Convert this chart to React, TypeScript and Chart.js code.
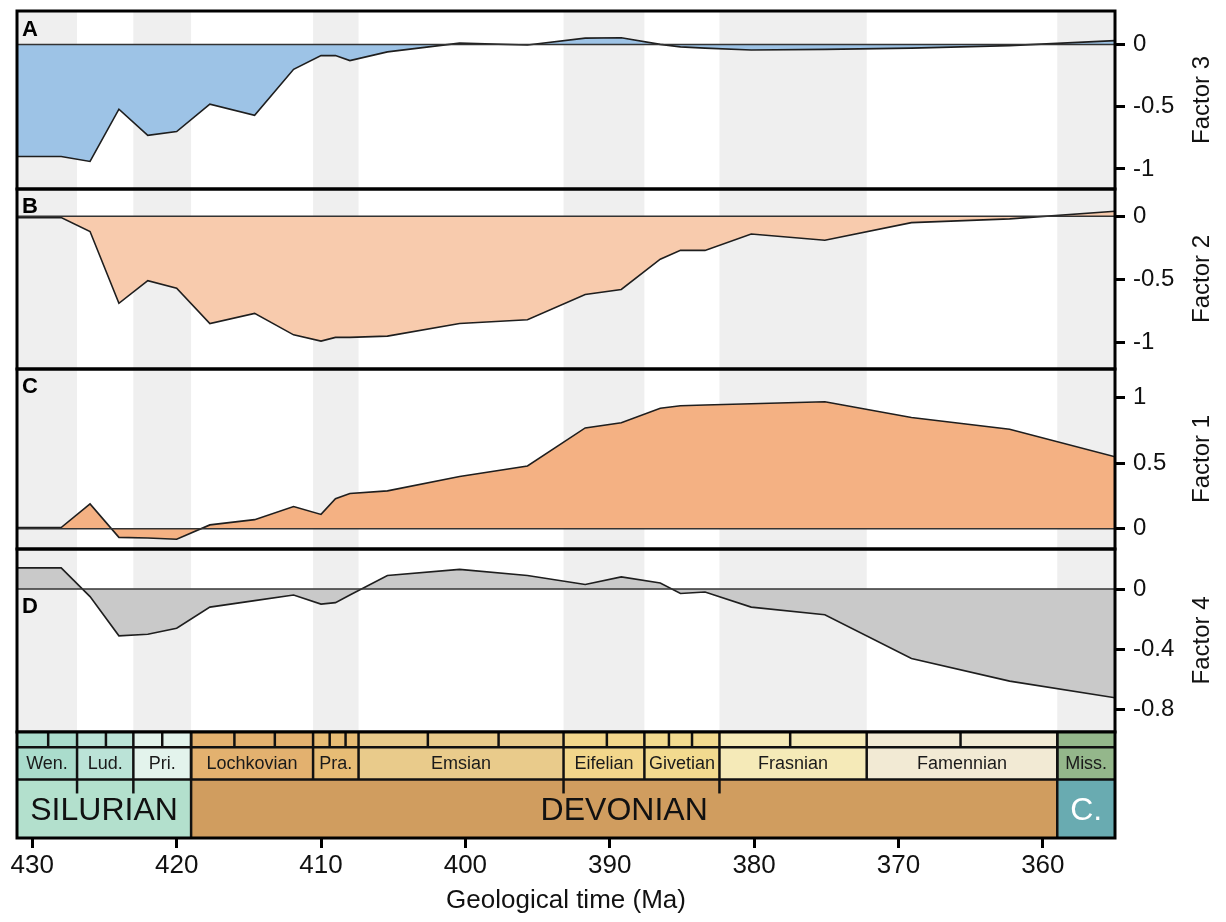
import React, { useEffect, useRef } from 'react';
import { Chart, registerables } from 'chart.js';

Chart.register(...registerables);

// ---------- data ----------
const ages = [431.06, 428, 426, 424, 422, 420, 417.7, 414.6, 411.9, 410, 409, 408, 405.4, 400.4, 395.7, 391.7, 389.2, 386.5, 385.1, 383.4, 380.2, 375.1, 369.1, 362.3, 355.0];
const factor3 = [-0.9, -0.9, -0.94, -0.52, -0.73, -0.7, -0.48, -0.57, -0.2, -0.09, -0.09, -0.13, -0.06, 0.01, -0.005, 0.05, 0.053, 0.0, -0.02, -0.03, -0.045, -0.04, -0.03, -0.01, 0.03];
const factor2 = [-0.01, -0.01, -0.12, -0.69, -0.51, -0.57, -0.85, -0.77, -0.94, -0.99, -0.96, -0.96, -0.95, -0.85, -0.82, -0.62, -0.58, -0.34, -0.27, -0.27, -0.14, -0.19, -0.05, -0.02, 0.04];
const factor1 = [0.01, 0.01, 0.19, -0.065, -0.07, -0.08, 0.03, 0.07, 0.17, 0.11, 0.23, 0.27, 0.29, 0.4, 0.48, 0.77, 0.81, 0.92, 0.94, 0.945, 0.955, 0.97, 0.85, 0.76, 0.55];
const factor4 = [0.14, 0.14, -0.05, -0.31, -0.3, -0.26, -0.12, -0.077, -0.04, -0.1, -0.09, -0.04, 0.09, 0.13, 0.09, 0.03, 0.08, 0.04, -0.03, -0.02, -0.12, -0.17, -0.46, -0.61, -0.72];

const xTicks = [430, 420, 410, 400, 390, 380, 370, 360];
const ticksA = [0, -0.5, -1];
const ticksB = [0, -0.5, -1];
const ticksC = [1, 0.5, 0];
const ticksD = [0, -0.4, -0.8];

const panelLetters = ['A', 'B', 'C', 'D'];
const panelTitles = ['Factor 3', 'Factor 2', 'Factor 1', 'Factor 4'];

// alternating grey stage bands (Ma)
const grayBands: [number, number][] = [
  [431.06, 426.9], [423.0, 419.0], [410.55, 407.4], [393.2, 387.6], [382.4, 372.2], [359.0, 355.0],
];

// geological time scale
const stageNames = ['Wen.', 'Lud.', 'Pri.', 'Lochkovian', 'Pra.', 'Emsian', 'Eifelian', 'Givetian', 'Frasnian', 'Famennian', 'Miss.'];
const stageBounds = [431.06, 426.9, 423.0, 419.0, 410.55, 407.4, 393.2, 387.6, 382.4, 372.2, 359.0, 355.0];
const subDivisions = [428.9, 424.9, 421.0, 416.0, 413.2, 409.4, 408.3, 402.6, 397.7, 390.2, 385.9, 384.3, 377.5, 365.7];
const periodNames = ['SILURIAN', 'DEVONIAN', 'C.'];
const periodBounds = [431.06, 419.0, 359.0, 355.0];
const epochTicks = [426.9, 423.0, 393.2, 382.4];

// ---------- styles ----------
const FONT = "'Liberation Sans', Arial, Helvetica, sans-serif";
const fillColors = ['#9DC3E6', '#F8CBAD', '#F4B183', '#C9C9C9'];
const stageColors = ['#AADCCC', '#BBE3D7', '#E3F3EC', '#E3B16F', '#E7BC75', '#E9CB8B', '#F2D68B', '#F2DA8F', '#F5EAB8', '#F2EAD4', '#94B78B'];
const periodColors = ['#B3E0CD', '#D09D5F', '#69ABB1'];
const periodTextColors = ['#111111', '#111111', '#FFFFFF'];
const letterOffsets = [19, 18, 18, 58];

const noPad = (s: any) => {
  s.paddingTop = 0;
  s.paddingBottom = 0;
  s.paddingLeft = 0;
  s.paddingRight = 0;
};

const panelScale = (min: number, max: number, ticks: number[], weight: number) => ({
  type: 'linear',
  position: 'right',
  stack: 'panels',
  stackWeight: weight,
  min,
  max,
  afterBuildTicks: (s: any) => {
    s.ticks = ticks.map((v) => ({ value: v }));
  },
  afterFit: (s: any) => {
    s.width = 100;
    noPad(s);
  },
  grid: { drawOnChartArea: false, drawTicks: true, tickLength: 10, tickWidth: 3, tickColor: '#000' },
  border: { display: false },
  ticks: { font: { family: FONT, size: 24 }, color: '#111', padding: 8, callback: (v: any) => String(v) },
});

const geoPlugin = {
  id: 'geoPlugin',
  beforeDatasetsDraw(chart: any) {
    const { ctx, scales } = chart;
    const x = scales.x;
    const top = scales.yA.top;
    const bottom = scales.yD.bottom;
    ctx.save();
    ctx.fillStyle = '#EFEFEF';
    for (const [a, b] of grayBands) {
      const x1 = x.getPixelForValue(a);
      const x2 = x.getPixelForValue(b);
      ctx.fillRect(Math.min(x1, x2), top, Math.abs(x2 - x1), bottom - top);
    }
    ctx.restore();
  },
  afterDatasetsDraw(chart: any) {
    const { ctx, scales, chartArea } = chart;
    const x = scales.x;
    const L = chartArea.left;
    const R = chartArea.right;
    const panels = [scales.yA, scales.yB, scales.yC, scales.yD];
    ctx.save();
    // zero lines
    ctx.strokeStyle = '#333';
    ctx.lineWidth = 1.5;
    panels.forEach((s: any) => {
      const y = s.getPixelForValue(0);
      ctx.beginPath();
      ctx.moveTo(L, y);
      ctx.lineTo(R, y);
      ctx.stroke();
    });
    // frames
    ctx.strokeStyle = '#000';
    ctx.lineWidth = 3;
    panels.forEach((s: any) => {
      ctx.strokeRect(L, s.top, R - L, s.bottom - s.top);
    });
    // letters
    ctx.fillStyle = '#000';
    ctx.font = `bold 22px ${FONT}`;
    ctx.textAlign = 'left';
    ctx.textBaseline = 'middle';
    panels.forEach((s: any, i: number) => {
      ctx.fillText(panelLetters[i], L + 5, s.top + letterOffsets[i]);
    });
    // axis titles (rotated)
    ctx.font = `24px ${FONT}`;
    ctx.fillStyle = '#111';
    ctx.textAlign = 'center';
    panels.forEach((s: any, i: number) => {
      ctx.save();
      ctx.translate(s.left + 87, (s.top + s.bottom) / 2);
      ctx.rotate(-Math.PI / 2);
      ctx.fillText(panelTitles[i], 0, 0);
      ctx.restore();
    });

    // time scale
    const ts = scales.yT;
    const t0 = ts.top;
    const t3 = ts.bottom;
    const h = t3 - t0;
    const r1 = t0 + (h * 15) / 105;
    const r2 = t0 + (h * 47) / 105;
    const px = (v: number) => x.getPixelForValue(v);

    for (let i = 0; i < stageNames.length; i++) {
      const a = px(stageBounds[i]);
      const b = px(stageBounds[i + 1]);
      ctx.fillStyle = stageColors[i];
      ctx.fillRect(a, t0, b - a, r2 - t0);
    }
    for (let i = 0; i < periodNames.length; i++) {
      const a = px(periodBounds[i]);
      const b = px(periodBounds[i + 1]);
      ctx.fillStyle = periodColors[i];
      ctx.fillRect(a, r2, b - a, t3 - r2);
    }
    ctx.strokeStyle = '#111';
    ctx.lineWidth = 2.5;
    [r1, r2].forEach((y) => {
      ctx.beginPath();
      ctx.moveTo(L, y);
      ctx.lineTo(R, y);
      ctx.stroke();
    });
    subDivisions.forEach((v) => {
      const xx = px(v);
      ctx.beginPath();
      ctx.moveTo(xx, t0);
      ctx.lineTo(xx, r1);
      ctx.stroke();
    });
    for (let i = 1; i < stageBounds.length - 1; i++) {
      const xx = px(stageBounds[i]);
      ctx.beginPath();
      ctx.moveTo(xx, t0);
      ctx.lineTo(xx, r2);
      ctx.stroke();
    }
    for (let i = 1; i < periodBounds.length - 1; i++) {
      const xx = px(periodBounds[i]);
      ctx.beginPath();
      ctx.moveTo(xx, t0);
      ctx.lineTo(xx, t3);
      ctx.stroke();
    }
    epochTicks.forEach((v) => {
      const xx = px(v);
      ctx.beginPath();
      ctx.moveTo(xx, r2);
      ctx.lineTo(xx, r2 + 14);
      ctx.stroke();
    });
    ctx.lineWidth = 3;
    ctx.strokeStyle = '#000';
    ctx.strokeRect(L, t0, R - L, t3 - t0);

    ctx.font = `18px ${FONT}`;
    ctx.fillStyle = '#1a1a1a';
    ctx.textAlign = 'center';
    ctx.textBaseline = 'middle';
    for (let i = 0; i < stageNames.length; i++) {
      const a = px(stageBounds[i]);
      const b = px(stageBounds[i + 1]);
      ctx.fillText(stageNames[i], (a + b) / 2, (r1 + r2) / 2 + 1);
    }
    ctx.font = `32px ${FONT}`;
    for (let i = 0; i < periodNames.length; i++) {
      const a = px(periodBounds[i]);
      const b = px(periodBounds[i + 1]);
      ctx.fillStyle = periodTextColors[i];
      ctx.fillText(periodNames[i], (a + b) / 2, (r2 + t3) / 2 + 2);
    }
    ctx.restore();
  },
};

const makeData = (vals: number[]) => ages.map((a, i) => ({ x: a, y: vals[i] }));

export default function App() {
  const ref = useRef<HTMLCanvasElement>(null);
  useEffect(() => {
    if (!ref.current) return;
    const series = [factor3, factor2, factor1, factor4];
    const axisIds = ['yA', 'yB', 'yC', 'yD'];
    const chart = new Chart(ref.current, {
      type: 'line',
      data: {
        datasets: series.map((vals, i) => ({
          label: panelTitles[i],
          data: makeData(vals),
          yAxisID: axisIds[i],
          xAxisID: 'x',
          borderColor: '#1E1E1E',
          borderWidth: 1.6,
          backgroundColor: fillColors[i],
          fill: { value: 0 },
          pointRadius: 0,
          tension: 0,
        })),
      },
      options: {
        animation: false,
        responsive: false,
        layout: { padding: { left: 17, top: 11, right: 11, bottom: 0 } },
        plugins: {
          legend: { display: false },
          tooltip: { enabled: false },
        },
        scales: {
          x: {
            type: 'linear',
            position: 'bottom',
            reverse: true,
            min: 355.0,
            max: 431.06,
            afterBuildTicks: (s: any) => {
              s.ticks = xTicks.map((v) => ({ value: v }));
            },
            afterFit: (s: any) => {
              s.height = 84;
              noPad(s);
            },
            grid: { drawOnChartArea: false, drawTicks: true, tickLength: 10, tickWidth: 3, tickColor: '#000' },
            border: { display: false },
            ticks: {
              font: { family: FONT, size: 26 },
              color: '#111',
              padding: 2,
              maxRotation: 0,
              autoSkip: false,
              callback: (v: any) => String(v),
            },
            title: {
              display: true,
              text: 'Geological time (Ma)',
              font: { family: FONT, size: 26 },
              color: '#111',
              padding: { top: 0, bottom: 6 },
            },
          },
          yA: panelScale(-1.161, 0.268, ticksA, 178),
          yB: panelScale(-1.211, 0.217, ticksB, 180),
          yC: panelScale(-0.154, 1.22, ticksC, 180),
          yD: panelScale(-0.947, 0.265, ticksD, 183),
          yT: {
            type: 'linear',
            position: 'right',
            stack: 'panels',
            stackWeight: 106,
            min: 0,
            max: 1,
            afterFit: (s: any) => {
              s.width = 100;
              noPad(s);
            },
            grid: { display: false },
            border: { display: false },
            ticks: { display: false },
          },
        } as any,
      },
      plugins: [geoPlugin],
    } as any);
    return () => chart.destroy();
  }, []);
  return (
    <div style={{ position: 'fixed', left: 0, top: 0, width: 1226, height: 922, background: '#fff' }}>
      <canvas ref={ref} width={1226} height={922} style={{ display: 'block', width: 1226, height: 922 }} />
    </div>
  );
}
